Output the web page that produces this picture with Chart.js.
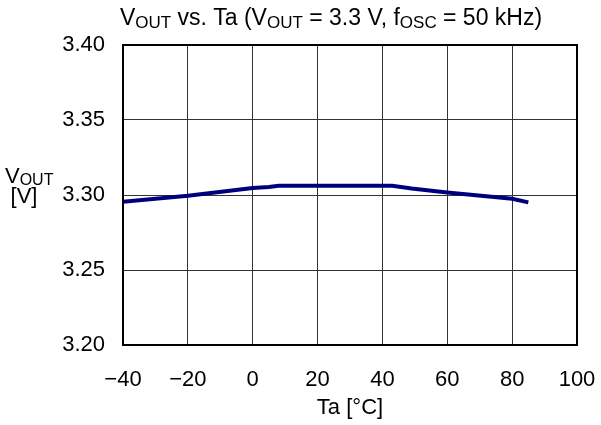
<!DOCTYPE html>
<html>
<head>
<meta charset="utf-8">
<script src="https://cdn.jsdelivr.net/npm/chart.js@4.4.1/dist/chart.umd.min.js"></script>
<style>
  html, body { margin: 0; padding: 0; background: #fff; }
  #wrap { width: 601px; height: 425px; position: relative; }
</style>
</head>
<body>
<div id="wrap"><canvas id="vout"></canvas></div>
<script>
// VOUT vs Ta curve
const temps = [-40, -20, 0, 5, 8, 43, 49, 60, 80, 85];
const vout  = [3.2955, 3.2995, 3.3047, 3.3053, 3.3062, 3.3062, 3.3044, 3.3017, 3.2975, 3.2951];
const xTicks = [-40, -20, 0, 20, 40, 60, 80, 100];
const yTicks = [3.20, 3.25, 3.30, 3.35, 3.40];

const FONT = "'Liberation Sans', Arial, sans-serif";
const fs = 22;

// draws text runs like [['V',0],['OUT',1]] where 1 = subscript
function drawRuns(ctx, runs, x, y, align, size, subSize) {
  const w = runs.reduce((s, [t, sub]) => {
    ctx.font = (sub ? subSize : size) + 'px ' + FONT;
    return s + ctx.measureText(t).width;
  }, 0);
  let cx = align === 'center' ? x - w / 2 : align === 'right' ? x - w : x;
  ctx.textBaseline = 'middle';
  ctx.textAlign = 'left';
  runs.forEach(([t, sub]) => {
    ctx.font = (sub ? subSize : size) + 'px ' + FONT;
    ctx.fillText(t, cx, sub ? y + 4 : y);
    cx += ctx.measureText(t).width;
  });
}

const decorations = {
  id: 'decorations',
  afterDraw(chart) {
    const { ctx, chartArea: a } = chart;
    ctx.save();
    // frame
    ctx.strokeStyle = '#000';
    ctx.lineWidth = 2;
    ctx.strokeRect(a.left, a.top, a.right - a.left, a.bottom - a.top);
    ctx.fillStyle = '#000';
    // title
    drawRuns(ctx, [['V',0],['OUT',1],[' vs. Ta (V',0],['OUT',1],[' = 3.3 V, f',0],['OSC',1],[' = 50 kHz)',0]],
      331, 19, 'center', 23, 17);
    // y axis title
    drawRuns(ctx, [['V',0],['OUT',1]], 5, 177, 'left', 22, 16);
    drawRuns(ctx, [['[V]',0]], 24, 197, 'center', 22, 16);
    ctx.restore();
  }
};

new Chart(document.getElementById('vout'), {
  type: 'line',
  data: {
    datasets: [{
      data: temps.map((t, i) => ({ x: t, y: vout[i] })),
      borderColor: '#00007f',
      borderWidth: 4,
      pointRadius: 0,
      tension: 0,
      fill: false
    }]
  },
  options: {
    responsive: true, maintainAspectRatio: false, animation: false,
    layout: { padding: { top: 45, right: 24, left: 0, bottom: 0 } },
    plugins: { legend: { display: false }, tooltip: { enabled: false } },
    scales: {
      x: {
        type: 'linear', min: -40, max: 100,
        afterBuildTicks: s => { s.ticks = xTicks.map(v => ({ value: v })); },
        afterFit: s => { s.height = 80; },
        grid: { color: '#333', lineWidth: 1, drawTicks: false },
        border: { display: false },
        title: { display: true, text: 'Ta [°C]', color: '#000', font: { family: FONT, size: fs }, padding: { top: 4 } },
        ticks: {
          color: '#000', font: { family: FONT, size: fs, lineHeight: 2.8 }, padding: 4, maxRotation: 0,
          callback: v => (v < 0 ? '\u2212' + Math.abs(v) : '' + v)
        }
      },
      y: {
        min: 3.2, max: 3.4,
        afterBuildTicks: s => { s.ticks = yTicks.map(v => ({ value: v })); },
        afterFit: s => { s.width = 123; },
        grid: { color: '#333', lineWidth: 1, drawTicks: false },
        border: { display: false },
        ticks: {
          color: '#000', font: { family: FONT, size: fs }, padding: 18,
          callback: v => v.toFixed(2)
        }
      }
    }
  },
  plugins: [decorations]
});
</script>
</body>
</html>
